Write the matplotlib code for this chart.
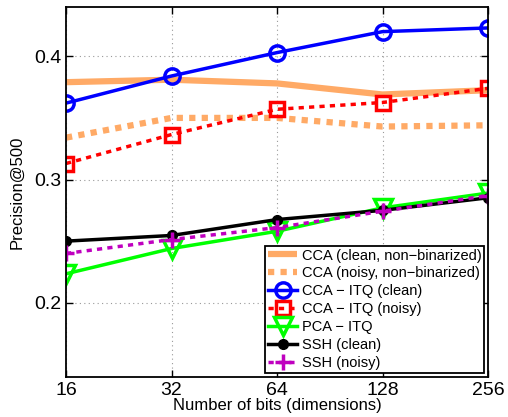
import matplotlib
matplotlib.use("Agg")
import matplotlib.pyplot as plt
import numpy as np

plt.rcParams['font.family'] = ['Liberation Sans', 'DejaVu Sans']

bits = [16, 32, 64, 128, 256]
cca_clean_nb = [0.379, 0.381, 0.378, 0.369, 0.3725]
cca_noisy_nb = [0.334, 0.350, 0.350, 0.343, 0.344]
cca_itq_clean = [0.362, 0.384, 0.403, 0.420, 0.423]
cca_itq_noisy = [0.313, 0.3365, 0.357, 0.3625, 0.374]
pca_itq = [0.2235, 0.244, 0.258, 0.277, 0.289]
ssh_clean = [0.250, 0.2546, 0.2675, 0.275, 0.2852]
ssh_noisy = [0.240, 0.2513, 0.261, 0.2743, 0.287]
labels = ['CCA (clean, non\u2212binarized)', 'CCA (noisy, non\u2212binarized)',
          'CCA \u2212 ITQ (clean)', 'CCA \u2212 ITQ (noisy)', 'PCA \u2212 ITQ',
          'SSH (clean)', 'SSH (noisy)']

fig = plt.figure(figsize=(5.08, 4.17), dpi=100)
ax = fig.add_axes([66/508, 1-376.7/417, (488-66)/508, (376.7-7)/417])
x = np.log2(bits)
orange = '#FFAA66'
ax.plot(x, cca_clean_nb, color=orange, lw=4.5, label=labels[0], solid_capstyle='butt')
ax.plot(x, cca_noisy_nb, color=orange, lw=4.5, ls=(0, (1, 1)), label=labels[1])
ax.plot(x, cca_itq_clean, color='#0000FF', lw=2.5, marker='o', ms=11, mfc='none', mew=2.5, label=labels[2])
ax.plot(x, cca_itq_noisy, color='#FF0000', lw=2.5, ls=(0, (1.5, 1.5)), marker='s', ms=10, mfc='none', mew=2.5, label=labels[3])
ax.plot(x, pca_itq, color='#00FF00', lw=2.5, marker='v', ms=13, mfc='none', mew=2.5, label=labels[4])
ax.plot(x, ssh_clean, color='black', lw=2.5, marker='o', ms=7, label=labels[5])
ax.plot(x, ssh_noisy, color='#BF00BF', lw=2.5, ls=(0, (1.5, 1.5)), marker='+', ms=11, mew=2.5, label=labels[6])

ax.set_xlim(4, 8)
ax.set_ylim(0.14, 0.44)
ax.set_xticks(x)
ax.set_xticklabels([str(b) for b in bits])
ax.set_yticks([0.2, 0.3, 0.4])
ax.set_yticklabels(['0.2', '0.3', '0.4'])
ax.tick_params(labelsize=14, direction='in', length=5, width=1, top=True, right=True)
ax.tick_params(axis='x', pad=4)
ax.grid(True, ls=(0, (1, 3)), color='#999999', lw=0.8)
for s in ax.spines.values():
    s.set_linewidth(1.3)
ax.set_xlabel('Number of bits (dimensions)', fontsize=12, labelpad=-1)
ax.set_ylabel('Precision@500', fontsize=12, labelpad=7)
leg = ax.legend(loc='lower right', fontsize=10.5, frameon=True, fancybox=False,
                edgecolor='black', framealpha=1, borderaxespad=0.25,
                handlelength=2.0, handletextpad=0.3, labelspacing=0.27,
                borderpad=0.2)
leg.get_frame().set_linewidth(1.3)
fig.savefig('out.png', dpi=100)
